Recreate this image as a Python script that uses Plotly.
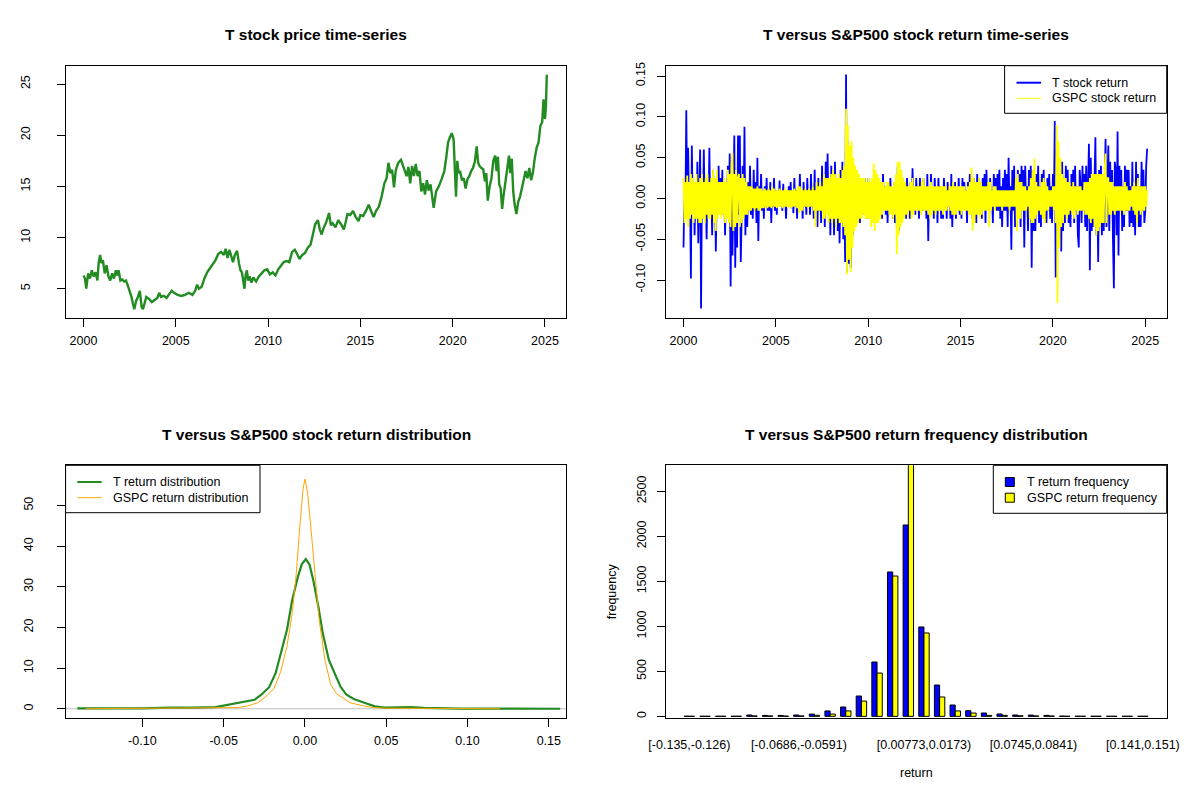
import plotly.graph_objects as go

# ---------------- data ----------------
PRICE_YEAR = [
    2000.0, 2000.08, 2000.15, 2000.25, 2000.35, 2000.45, 2000.55, 2000.65, 2000.75, 2000.82,
    2000.9, 2000.97, 2001.05, 2001.15, 2001.25, 2001.35, 2001.45, 2001.55, 2001.65, 2001.75,
    2001.82, 2001.9, 2002.0, 2002.1, 2002.2, 2002.3, 2002.4, 2002.5, 2002.6, 2002.68,
    2002.75, 2002.85, 2002.95, 2003.05, 2003.15, 2003.22, 2003.3, 2003.4, 2003.55, 2003.7,
    2003.85, 2004.0, 2004.1, 2004.2, 2004.35, 2004.5, 2004.65, 2004.78, 2004.9, 2005.1,
    2005.3, 2005.5, 2005.7, 2005.9, 2006.05, 2006.15, 2006.25, 2006.4, 2006.55, 2006.7,
    2006.85, 2007.0, 2007.15, 2007.3, 2007.45, 2007.6, 2007.7, 2007.8, 2007.9, 2008.0,
    2008.1, 2008.2, 2008.32, 2008.42, 2008.5, 2008.58, 2008.65, 2008.72, 2008.78, 2008.85,
    2008.92, 2009.0, 2009.1, 2009.2, 2009.35, 2009.5, 2009.65, 2009.8, 2009.95, 2010.1,
    2010.25, 2010.4, 2010.55, 2010.7, 2010.85, 2011.0, 2011.15, 2011.3, 2011.45, 2011.6,
    2011.7, 2011.85, 2012.0, 2012.15, 2012.3, 2012.45, 2012.55, 2012.7, 2012.8, 2012.9,
    2013.0, 2013.15, 2013.3, 2013.4, 2013.5, 2013.65, 2013.8, 2013.95, 2014.1, 2014.2,
    2014.3, 2014.45, 2014.6, 2014.75, 2014.9, 2015.0, 2015.15, 2015.3, 2015.45, 2015.6,
    2015.72, 2015.85, 2016.0, 2016.15, 2016.3, 2016.42, 2016.52, 2016.62, 2016.72, 2016.82,
    2016.92, 2017.05, 2017.2, 2017.35, 2017.5, 2017.6, 2017.7, 2017.8, 2017.9, 2018.0,
    2018.1, 2018.2, 2018.3, 2018.4, 2018.5, 2018.6, 2018.7, 2018.8, 2018.9, 2018.97,
    2019.1, 2019.25, 2019.4, 2019.55, 2019.65, 2019.75, 2019.85, 2019.95, 2020.05, 2020.12,
    2020.18, 2020.25, 2020.32, 2020.4, 2020.5, 2020.6, 2020.7, 2020.8, 2020.9, 2021.0,
    2021.1, 2021.2, 2021.3, 2021.38, 2021.45, 2021.55, 2021.65, 2021.75, 2021.82, 2021.9,
    2022.0, 2022.1, 2022.2, 2022.3, 2022.38, 2022.45, 2022.52, 2022.6, 2022.68, 2022.75,
    2022.85, 2022.95, 2023.05, 2023.12, 2023.2, 2023.28, 2023.35, 2023.45, 2023.55, 2023.65,
    2023.75, 2023.85, 2023.95, 2024.05, 2024.15, 2024.25, 2024.35, 2024.45, 2024.55, 2024.65,
    2024.75, 2024.85, 2024.92, 2025.0, 2025.05, 2025.1,
]
PRICE = [
    6.3, 6.0, 5.0, 6.5, 6.0, 6.8, 6.2, 6.6, 5.8, 7.5,
    8.3, 7.5, 7.8, 6.5, 7.3, 6.2, 5.8, 6.5, 6.0, 6.8,
    6.3, 6.8, 5.8, 5.9, 5.7, 5.8, 5.3, 4.8, 4.2, 3.5,
    3.0, 3.8, 4.2, 4.8, 3.2, 3.0, 3.5, 4.2, 4.0, 3.7,
    3.9, 4.1, 4.6, 4.2, 4.3, 4.1, 4.5, 4.8, 4.6, 4.4,
    4.3, 4.4, 4.6, 4.4, 4.8, 5.4, 5.0, 5.2, 6.0, 6.6,
    7.0, 7.4, 7.8, 8.4, 8.6, 8.3, 8.9, 8.0, 8.8, 8.2,
    7.6, 8.3, 8.7, 7.5, 6.8, 6.6, 5.5, 5.0, 6.3, 6.8,
    5.8, 6.2, 5.6, 6.1, 5.7, 6.2, 6.5, 6.8, 6.9, 6.4,
    6.6, 6.3, 6.9, 7.3, 7.6, 7.7, 7.6, 8.6, 8.8, 8.3,
    7.9, 8.3, 8.5, 9.0, 9.3, 10.5, 11.3, 11.7, 10.8, 10.3,
    10.9, 11.5, 12.4, 11.2, 11.4, 11.0, 11.7, 11.3, 10.8, 11.5,
    12.3, 12.2, 12.6, 12.0, 11.6, 12.2, 12.1, 12.6, 13.2, 12.5,
    12.0, 12.6, 13.0, 14.0, 15.3, 15.8, 17.3, 16.3, 16.6, 14.9,
    16.6, 17.3, 17.6, 16.8, 16.0, 16.9, 15.3, 17.0, 16.0, 17.2,
    16.0, 16.5, 14.5, 15.3, 14.2, 15.6, 14.6, 15.2, 14.0, 12.9,
    14.5, 15.0, 15.7, 16.5, 17.8, 19.3, 19.8, 20.2, 19.6, 16.5,
    14.0, 17.5, 16.3, 16.5, 15.6, 15.8, 14.8, 15.7, 16.0, 16.5,
    16.8, 17.4, 18.9, 17.3, 17.0, 16.8, 16.7, 15.5, 16.3, 13.6,
    15.0, 15.8, 17.5, 18.0, 16.5, 17.9, 15.2, 14.8, 12.8, 14.0,
    15.5, 16.5, 18.0, 16.3, 17.7, 14.5, 13.3, 12.3, 13.5, 14.0,
    14.8, 15.5, 16.5, 15.8, 16.8, 15.6, 16.4, 17.8, 18.8, 19.3,
    20.9, 21.3, 23.5, 21.6, 22.8, 25.9,
]

# daily-style returns in percent, one value every 0.05 year from 2000.0
T_RET_PCT = [
    -6.0, 1.5, -2.0, 10.8, -1.5, 6.2, -2.0, 1.5, -9.8, 6.5, -1.5, 2.0, -4.5, 1.5, -2.0, 4.5, -5.5, 1.5, 6.0, -13.5,
    2.0, -1.5, 6.0, -2.0, 1.5, -5.0, 2.0, -1.5, 6.2, -2.0, 1.5, -4.5, 3.5, -1.5, 2.0, -6.5, 1.5, -2.0, 4.0, -1.5,
    2.5, -1.5, 3.5, -2.0, 1.5, -4.5, 2.0, -1.5, 4.0, -2.0, 5.5, -10.8, 2.0, -7.0, 1.5, 7.7, -8.5, 2.0, -6.0, 7.7,
    -2.0, 7.7, -7.8, 2.0, 4.0, -2.0, 8.8, -4.5, 1.5, -3.5, 2.0, -1.5, 4.0, -2.0, 1.5, -2.5, 3.5, -1.5, 2.0, -3.0,
    5.0, -5.2, 1.5, -1.0, 3.0, -1.5, 1.0, -2.5, 1.5, -1.0, 2.5, -1.5, 1.0, -1.5, 2.0, -3.0, 1.0, -1.0, 2.5, -1.5,
    1.0, -2.0, 0.8, -0.8, 2.2, -1.0, 0.8, -1.5, 1.8, -0.8, 1.0, -2.5, 0.8, -1.0, 1.5, -0.8, 2.0, -1.2, 0.8, -1.8,
    2.5, -1.0, 1.0, -2.5, 1.0, -1.0, 3.0, -1.0, 1.0, -2.5, 2.0, -1.0, 1.0, -2.0, 2.5, -1.0, 1.0, -2.0, 3.0, -1.0,
    1.5, -2.5, 3.5, -1.5, 1.0, -3.5, 2.5, -1.5, 1.5, -3.0, 4.0, -1.5, 1.5, -3.5, 4.5, -1.5, 5.5, -2.0, 1.5, -4.5,
    4.0, -1.5, 2.0, -4.5, 4.5, -2.0, 1.5, -4.0, 2.0, -5.5, 3.5, -2.0, 4.5, -5.0, 2.0, -7.8, 15.2, -9.0, 7.0, -8.0,
    6.0, -8.5, 3.0, -4.5, 4.0, -2.0, 2.0, -3.0, 3.0, -1.5, 1.5, -3.0, 2.5, -1.5, 1.5, -2.0, 2.5, -1.5, 1.5, -2.5,
    2.5, -1.0, 1.5, -3.0, 1.0, -1.5, 2.0, -3.0, 1.0, -1.0, 2.0, -2.5, 1.0, -1.0, 2.0, -2.5, 3.0, -1.0, 1.5, -2.0,
    1.0, -3.0, 2.0, -1.0, 2.5, -1.0, 1.0, -2.5, 2.0, -3.0, 1.0, -3.5, 4.0, -4.0, 1.5, -2.5, 2.5, -1.0, 2.0, -1.5,
    1.0, -2.5, 2.5, -1.0, 1.0, -2.5, 2.0, -1.0, 3.7, -1.5, 1.0, -2.0, 2.5, -1.0, 1.0, -2.5, 2.5, -1.0, 2.0, -1.5,
    2.5, -1.0, 1.0, -2.5, 3.0, -5.2, 1.0, -2.0, 3.0, -1.0, 1.0, -2.5, 2.5, -1.0, 1.0, -3.0, 2.5, -1.0, 1.5, -2.5,
    1.0, -2.5, 2.5, -1.0, 1.0, -2.5, 2.0, -1.0, 1.0, -2.5, 3.0, -3.5, 1.0, -1.0, 2.0, -2.5, 1.0, -1.0, 2.5, -2.0,
    1.0, -2.5, 2.5, -1.0, 2.0, -1.0, 1.0, -3.0, 2.0, -1.0, 3.0, -1.5, 1.0, -2.5, 2.5, -1.0, 1.0, -3.0, 3.0, -1.0,
    2.5, -1.0, 1.0, -2.5, 2.5, -1.0, 3.0, -3.0, 3.5, -1.0, 1.5, -2.0, 2.5, -1.0, 1.0, -3.0, 3.0, -1.0, 2.5, -1.5,
    3.0, -1.5, 3.5, -2.5, 1.5, -3.5, 2.5, -1.5, 3.5, -1.5, 3.0, -3.5, 5.0, -1.5, 1.5, -6.3, 3.5, -1.5, 4.0, -3.5,
    1.5, -3.5, 3.5, -1.5, 3.0, -3.5, 4.0, -1.5, 3.5, -6.0, 4.0, -1.5, 1.5, -4.0, 3.5, -1.5, 4.0, -8.5, 3.5, -4.0,
    1.5, -4.0, 3.0, -1.5, 4.0, -3.0, 1.5, -3.5, 3.0, -1.5, 3.5, -2.5, 1.5, -3.0, 2.5, -1.5, 3.0, -2.5, 1.5, -3.0,
    3.0, -1.5, 9.5, -9.7, 6.0, -4.5, 4.0, -5.0, 1.5, -6.5, 4.5, -4.0, 1.5, -3.0, 4.0, -1.5, 3.5, -3.0, 1.5, -3.5,
    3.0, -1.5, 3.5, -3.0, 4.0, -1.5, 1.5, -4.5, -6.0, 3.5, 1.5, -3.0, 4.0, -1.5, 3.0, -3.5, 4.0, -4.0, 1.5, 6.7,
    -8.8, 5.0, -4.0, 1.5, -3.5, 4.5, 7.5, -4.5, 1.5, -7.8, 3.5, -3.5, 4.0, -4.5, 1.5, -4.0, 3.0, 7.3, -3.5, 1.5,
    6.5, -4.0, 4.5, -1.5, 3.5, -5.0, -11.0, 4.5, 3.5, -4.5, 8.2, -7.0, 4.0, -1.5, 3.5, -4.0, 1.5, -3.5, 4.0, -1.5,
    3.5, -1.5, 3.5, -3.5, 1.5, -3.0, 4.5, -3.5, 1.5, -4.5, 4.5, -1.5, 3.0, -3.5, 1.5, -3.5, 4.5, -1.5, 3.5, -3.0,
    -1.5, 4.0, 6.1,
]
GSPC_RET_PCT = [
    2.5, -3.0, 2.0, -2.5, 2.8, -3.5, 2.0, -2.5, 3.0, -2.0, 2.5, -3.0, 2.0, -2.5, 3.0, -2.5, 2.0, -3.0, 2.5, -3.0,
    3.0, -2.5, 2.0, -3.0, 2.5, -2.0, 3.0, -2.5, 2.0, -2.5, 2.5, -2.0, 3.5, -3.0, 2.5, -4.0, 3.5, -2.5, 2.0, -2.0,
    2.0, -2.5, 2.0, -2.0, 2.5, -3.0, 2.0, -2.5, 3.5, -3.0, 3.0, -3.5, 4.0, 5.6, -4.0, 3.0, -3.5, 3.5, -3.0, 2.5,
    3.0, -3.5, 2.5, -3.0, 3.0, -2.5, 2.5, -2.0, 2.0, -2.0, 1.5, -1.5, 1.5, -1.5, 1.5, -1.2, 1.2, -1.5, 1.2, -1.2,
    1.5, -1.5, 1.2, -1.5, 1.2, -1.2, 1.0, -1.2, 1.2, -1.0, 1.0, -1.2, 1.2, -1.0, 1.0, -1.2, 1.5, -1.0, 1.2, -1.0,
    1.0, -1.2, 1.0, -1.0, 1.2, -1.0, 1.0, -1.2, 1.0, -1.0, 1.2, -1.0, 1.0, -1.2, 1.0, -1.0, 1.0, -1.2, 1.0, -1.0,
    1.2, -1.0, 1.0, -1.2, 1.5, -1.8, 1.5, -1.5, 1.2, -1.5, 1.0, -1.0, 1.2, -1.0, 1.0, -1.2, 1.2, -1.0, 1.0, -1.0,
    1.5, -1.5, 1.0, -3.5, 2.0, -1.5, 1.5, -1.5, 2.0, -1.5, 1.5, -2.5, 3.0, -2.5, 2.5, -2.0, 2.5, -3.0, 2.5, -2.5,
    3.0, -3.0, 3.5, -2.5, 3.0, -3.5, 2.5, -2.5, 3.0, -3.0, 2.5, -3.0, 3.5, -3.5, 4.0, -4.5, 11.0, -9.3, 9.0, -7.5,
    6.5, -9.0, 7.0, -6.0, 5.0, -4.0, 4.0, -3.5, 3.5, -3.0, 3.0, -2.5, 2.5, -2.5, 2.5, -2.0, 2.5, -2.5, 2.0, -2.5,
    2.5, -2.5, 2.0, -3.5, 2.5, -3.0, 4.3, -4.0, 3.5, -3.0, 3.0, -3.0, 2.5, -2.5, 2.0, -2.0, 2.0, -1.5, 1.5, -1.5,
    2.0, -1.5, 2.0, -2.0, 1.5, -2.0, 1.5, -2.5, 2.0, -2.0, 3.0, -6.8, 4.5, -4.5, 4.5, -3.5, 3.5, -3.0, 2.5, -2.5,
    2.0, -2.0, 1.5, -2.0, 1.5, -1.5, 2.0, -2.5, 2.5, -2.0, 1.5, -1.5, 1.5, -1.5, 1.5, -1.5, 1.5, -2.0, 2.0, -1.5,
    2.5, -1.5, 1.5, -1.5, 1.5, -2.0, 1.5, -2.5, 2.0, -2.0, 1.5, -1.5, 1.5, -2.0, 1.5, -1.5, 1.5, -1.5, 1.5, -1.5,
    1.5, -2.0, 1.5, -1.5, 1.5, -1.5, 1.0, -1.0, 1.5, -1.5, 1.5, -2.0, 2.0, -2.0, 1.5, -2.0, 1.5, -1.5, 1.5, -1.5,
    1.5, -2.0, 1.5, -1.5, 1.5, -1.5, 1.0, -1.5, 1.5, -2.0, 2.0, -2.0, 3.8, -4.0, 2.5, -3.0, 2.0, -2.0, 2.0, -2.0,
    2.5, -2.5, 2.0, -2.0, 1.5, -1.5, 1.5, -1.5, 1.5, -1.5, 2.0, -3.5, 2.0, -1.5, 1.0, -1.0, 1.5, -1.5, 1.5, -1.0,
    1.0, -1.0, 1.0, -1.0, 1.0, -1.5, 1.0, -1.0, 1.0, -1.0, 1.0, -1.0, 1.0, -1.5, 1.0, -1.0, 1.0, -1.0, 1.0, -1.0,
    2.5, -4.0, 3.0, -2.5, 2.0, -2.5, 2.0, -1.5, 1.5, -1.5, 1.5, -1.5, 1.0, -1.0, 1.5, -2.5, 2.5, -3.0, 3.5, -3.0,
    4.9, -2.5, 2.0, -2.0, 1.5, -1.5, 1.5, -2.0, 2.0, -2.5, 2.5, -3.0, 2.0, -1.5, 1.5, -1.5, 1.0, -1.0, 1.0, -1.0,
    1.5, -1.5, 1.5, -3.0, 9.0, -12.8, 7.0, -6.0, 5.0, -3.5, 3.0, -3.0, 2.5, -2.0, 2.5, -2.5, 2.0, -2.0, 2.0, -1.5,
    1.5, -2.0, 2.0, -2.5, 1.5, -1.5, 1.5, -2.0, 1.5, -1.5, 1.5, -1.5, 1.0, -1.5, 2.0, -2.0, 2.0, -2.0, 2.0, -2.5,
    2.5, -3.0, 3.0, -2.5, 3.0, -3.5, 3.0, -4.5, 3.0, -4.0, 3.0, -3.5, 3.0, -3.0, 3.0, -3.0, 3.5, 5.5, -3.0, 2.5,
    2.5, -2.0, 2.0, -2.0, 2.0, -1.5, 1.5, -2.0, 1.5, -1.5, 1.5, -1.5, 1.5, -1.5, 1.5, -1.5, 1.5, -2.0, 2.0, -1.5,
    1.5, -1.5, 1.0, -1.5, 1.0, -1.0, 1.5, -1.5, 2.0, -2.0, 1.5, -3.0, 2.5, -1.5, 1.5, -2.0, 1.5, -1.5, 1.5, -1.5,
    1.5, -1.0, 1.0,
]
RET_YEAR = [2000 + i / 20 for i in range(len(T_RET_PCT))]

DENS_X_T = [-0.140, -0.12, -0.10, -0.083, -0.075, -0.069, -0.055, -0.047, -0.041, -0.035,
            -0.031, -0.027, -0.022, -0.018, -0.015, -0.011, -0.0078, -0.0043, -0.0019, 0.0005,
            0.0028, 0.0052, 0.0083, 0.011, 0.0147, 0.0183, 0.0218, 0.0254, 0.030, 0.037,
            0.043, 0.049, 0.058, 0.065, 0.073, 0.085, 0.096, 0.12, 0.157]
DENS_T = [0.1, 0.1, 0.1, 0.3, 0.2, 0.3, 0.4, 1.0, 1.6, 1.9,
          2.2, 3.4, 5.3, 8.8, 13.7, 19.5, 26.8, 32.5, 35.6, 36.8,
          35.5, 31.5, 25.0, 18.5, 12.0, 8.8, 5.5, 3.5, 2.4, 1.4,
          0.6, 0.3, 0.3, 0.4, 0.2, 0.1, 0.05, 0.02, 0.0]
DENS_X_G = [-0.135, -0.11, -0.094, -0.08, -0.065, -0.05, -0.042, -0.036, -0.029, -0.024,
            -0.019, -0.015, -0.011, -0.0078, -0.0054, -0.0031, -0.0012, 0.0, 0.0017, 0.004,
            0.0064, 0.0087, 0.0123, 0.0158, 0.0194, 0.023, 0.0277, 0.0348, 0.042, 0.049,
            0.06, 0.073, 0.09, 0.12]
DENS_G = [0.0, 0.05, 0.1, 0.1, 0.1, 0.15, 0.3, 0.6, 1.5, 3.0,
          5.0, 9.0, 15.5, 23.5, 33.0, 45.0, 54.0, 56.5, 53.0, 43.0,
          32.0, 22.0, 12.0, 6.0, 3.7, 2.8, 1.5, 0.8, 0.3, 0.15,
          0.1, 0.05, 0.05, 0.0]

BIN_LABELS = [
    "[-0.135,-0.126)", "[-0.126,-0.116)", "[-0.116,-0.107)", "[-0.107,-0.0972)",
    "[-0.0972,-0.0877)", "[-0.0877,-0.0782)", "[-0.0782,-0.0686)", "[-0.0686,-0.0591)",
    "[-0.0591,-0.0495)", "[-0.0495,-0.04)", "[-0.04,-0.0305)", "[-0.0305,-0.0209)",
    "[-0.0209,-0.0114)", "[-0.0114,-0.00183)", "[-0.00183,0.00773)", "[0.00773,0.0173)",
    "[0.0173,0.0268)", "[0.0268,0.0363)", "[0.0363,0.0459)", "[0.0459,0.0554)",
    "[0.0554,0.065)", "[0.065,0.0745)", "[0.0745,0.0841)", "[0.0841,0.0936)",
    "[0.0936,0.103)", "[0.103,0.113)", "[0.113,0.122)", "[0.122,0.132)",
    "[0.132,0.141)", "[0.141,0.151)",
]
SHOWN_BIN_LABELS = ["[-0.135,-0.126)", "[-0.0686,-0.0591)", "[0.00773,0.0173)",
                    "[0.0745,0.0841)", "[0.141,0.151)"]
T_FREQ = [2, 1, 1, 1, 15, 10, 10, 15, 25, 60, 104, 226, 604, 1604, 2126,
          993, 348, 126, 63, 37, 26, 15, 14, 11, 3, 2, 1, 1, 1, 1]
GSPC_FREQ = [1, 1, 1, 1, 5, 5, 3, 5, 12, 25, 60, 170, 481, 1559, 2835,
             926, 215, 60, 37, 11, 11, 7, 5, 4, 1, 1, 1, 1, 1, 1]

YEAR_TICKS = [2000, 2005, 2010, 2015, 2020, 2025]
PRICE_TICKS = [5, 10, 15, 20, 25]
RET_TICKS = [-0.10, -0.05, 0.0, 0.05, 0.10, 0.15]
RET_TICK_TEXT = ["-0.10", "-0.05", "0.00", "0.05", "0.10", "0.15"]
DENS_TICKS = [0, 10, 20, 30, 40, 50]
FREQ_TICKS = [0, 500, 1000, 1500, 2000, 2500]

TITLES = ["T stock price time-series", "T versus S&P500 stock return time-series",
          "T versus S&P500 stock return distribution", "T versus S&P500 return frequency distribution"]

# ---------------- styling / layout helpers ----------------
OFF = 8            # page body margin in the browser
W, H = 1200 - OFF, 800 - OFF
FONT = "Liberation Sans, Arial, sans-serif"
FS = 12.5
BLACK = "#000000"


def px(x):
    return (x - OFF) / W


def py(y):
    return 1 - (y - OFF) / H


LEFT = (65.6, 566.4)
RIGHT = (665.6, 1166.7)
TOP = (65.7, 318.3)
BOTTOM = (465.3, 717.7)

fig = go.Figure()

fig.add_trace(go.Scatter(x=PRICE_YEAR, y=PRICE, mode="lines", name="T price",
                         line=dict(color="#228B22", width=2.4), xaxis="x", yaxis="y"))

T_RET = [v / 100 for v in T_RET_PCT]
GSPC_RET = [v / 100 for v in GSPC_RET_PCT]
fig.add_trace(go.Scatter(x=RET_YEAR, y=T_RET, mode="lines", name="T stock return",
                         line=dict(color="#0000FF", width=1.8), xaxis="x2", yaxis="y2"))
fig.add_trace(go.Scatter(x=RET_YEAR, y=GSPC_RET, mode="lines", name="GSPC stock return",
                         line=dict(color="#FFFF00", width=1.8), xaxis="x2", yaxis="y2"))

fig.add_trace(go.Scatter(x=DENS_X_T, y=DENS_T, mode="lines", name="T return distribution",
                         line=dict(color="#228B22", width=2.2), xaxis="x3", yaxis="y3"))
fig.add_trace(go.Scatter(x=DENS_X_G, y=DENS_G, mode="lines", name="GSPC return distribution",
                         line=dict(color="#FFA500", width=1), xaxis="x3", yaxis="y3"))

fig.add_trace(go.Bar(x=BIN_LABELS, y=T_FREQ, name="T return frequency",
                     marker=dict(color="#0000FF", line=dict(color=BLACK, width=1)),
                     xaxis="x4", yaxis="y4"))
fig.add_trace(go.Bar(x=BIN_LABELS, y=GSPC_FREQ, name="GSPC return frequency",
                     marker=dict(color="#FFFF00", line=dict(color=BLACK, width=1)),
                     xaxis="x4", yaxis="y4"))


def axis_common(**kw):
    d = dict(showline=True, linecolor=BLACK, linewidth=1, mirror=True,
             ticks="outside", ticklen=8, tickwidth=1, tickcolor=BLACK,
             showgrid=False, zeroline=False, automargin=False,
             tickfont=dict(family=FONT, size=FS, color=BLACK))
    d.update(kw)
    return d


XSO = 3
fig.update_layout(
    template="none",
    width=W, height=H, margin=dict(l=0, r=0, t=0, b=0, pad=0),
    paper_bgcolor="white", plot_bgcolor="white", showlegend=False,
    barmode="group", bargap=1 / 3, bargroupgap=0,
    xaxis=axis_common(domain=[px(LEFT[0]), px(LEFT[1])], range=[1999.03, 2026.16],
                      tickvals=YEAR_TICKS, anchor="y", ticklabelstandoff=XSO),
    yaxis=axis_common(domain=[py(TOP[1]), py(TOP[0])], range=[2.11, 26.79],
                      tickvals=PRICE_TICKS, tickangle=-90, anchor="x", ticklabelstandoff=22),
    xaxis2=axis_common(domain=[px(RIGHT[0]), px(RIGHT[1])], range=[1999.03, 2026.16],
                       tickvals=YEAR_TICKS, anchor="y2", ticklabelstandoff=XSO),
    yaxis2=axis_common(domain=[py(TOP[1]), py(TOP[0])], range=[-0.1469, 0.1627],
                       tickvals=RET_TICKS, ticktext=RET_TICK_TEXT, tickangle=-90,
                       anchor="x2", ticklabelstandoff=7),
    xaxis3=axis_common(domain=[px(LEFT[0]), px(LEFT[1])], range=[-0.1472, 0.1608],
                       tickvals=RET_TICKS, ticktext=RET_TICK_TEXT, anchor="y3",
                       ticklabelstandoff=XSO),
    yaxis3=axis_common(domain=[py(BOTTOM[1]), py(BOTTOM[0])], range=[-2.2, 59.9],
                       tickvals=DENS_TICKS, tickangle=-90, anchor="x3", ticklabelstandoff=19),
    xaxis4=axis_common(domain=[px(RIGHT[0]), px(RIGHT[1])], range=[-1.52, 30.52],
                       type="category", categoryorder="array", categoryarray=BIN_LABELS,
                       tickvals=SHOWN_BIN_LABELS, ticks="", anchor="y4",
                       ticklabelstandoff=15),
    yaxis4=axis_common(domain=[py(BOTTOM[1]), py(BOTTOM[0])], range=[-15, 2789],
                       tickvals=FREQ_TICKS, tickangle=-90, anchor="x4", ticklabelstandoff=6),
)

# zero reference line in the density panel
fig.add_shape(type="line", xref="x3 domain", yref="y3", x0=0, x1=1, y0=0, y1=0,
              line=dict(color="#BEBEBE", width=1), layer="below")

# titles and axis labels
annos = []
centers = [((LEFT[0] + LEFT[1]) / 2, 34), ((RIGHT[0] + RIGHT[1]) / 2, 34),
           ((LEFT[0] + LEFT[1]) / 2, 434), ((RIGHT[0] + RIGHT[1]) / 2, 434)]
for t, (cx, cy) in zip(TITLES, centers):
    annos.append(dict(text="<b>%s</b>" % t, x=px(cx), y=py(cy), xref="paper", yref="paper",
                      xanchor="center", yanchor="middle", showarrow=False,
                      font=dict(family=FONT, size=15.5, color=BLACK)))
annos.append(dict(text="return", x=px((RIGHT[0] + RIGHT[1]) / 2), y=py(773), xref="paper",
                  yref="paper", xanchor="center", yanchor="middle", showarrow=False,
                  font=dict(family=FONT, size=FS, color=BLACK)))
annos.append(dict(text="frequency", x=px(611.7), y=py((BOTTOM[0] + BOTTOM[1]) / 2),
                  xref="paper", yref="paper", xanchor="center", yanchor="middle",
                  textangle=-90, showarrow=False, font=dict(family=FONT, size=FS, color=BLACK)))


# legends (drawn like R's legend boxes)
def legend_box(x0, y0, x1, y1):
    fig.add_shape(type="rect", xref="paper", yref="paper", x0=px(x0), x1=px(x1),
                  y0=py(y1), y1=py(y0), line=dict(color=BLACK, width=1), fillcolor="white",
                  layer="above")


def legend_text(x, y, text):
    annos.append(dict(text=text, x=px(x), y=py(y), xref="paper", yref="paper",
                      xanchor="left", yanchor="middle", showarrow=False,
                      font=dict(family=FONT, size=FS, color=BLACK)))


def legend_line(x0, x1, y, color, width):
    fig.add_shape(type="line", xref="paper", yref="paper", x0=px(x0), x1=px(x1),
                  y0=py(y), y1=py(y), line=dict(color=color, width=width), layer="above")


def legend_square(x0, y0, size, color):
    fig.add_shape(type="rect", xref="paper", yref="paper", x0=px(x0), x1=px(x0 + size),
                  y0=py(y0 + size), y1=py(y0), line=dict(color=BLACK, width=1),
                  fillcolor=color, layer="above")


legend_box(1004.6, 65.7, 1166.7, 113.3)
legend_line(1016.5, 1041, 82.7, "#0000FF", 2)
legend_line(1016.5, 1041, 98.3, "#FFFF00", 1)
legend_text(1050, 82.7, "T stock return")
legend_text(1050, 98.3, "GSPC stock return")

legend_box(65.6, 465.3, 260, 512.7)
legend_line(77.3, 101.7, 482, "#228B22", 2)
legend_line(77.3, 101.7, 497.7, "#FFA500", 1)
legend_text(111, 482, "T return distribution")
legend_text(111, 497.7, "GSPC return distribution")

legend_box(993.3, 465.3, 1166.7, 513.3)
legend_square(1005.3, 477.5, 9, "#0000FF")
legend_square(1005.3, 493.2, 9, "#FFFF00")
legend_text(1024.5, 482, "T return frequency")
legend_text(1024.5, 497.7, "GSPC return frequency")

fig.update_layout(annotations=annos)

fig.write_html("out.html")
